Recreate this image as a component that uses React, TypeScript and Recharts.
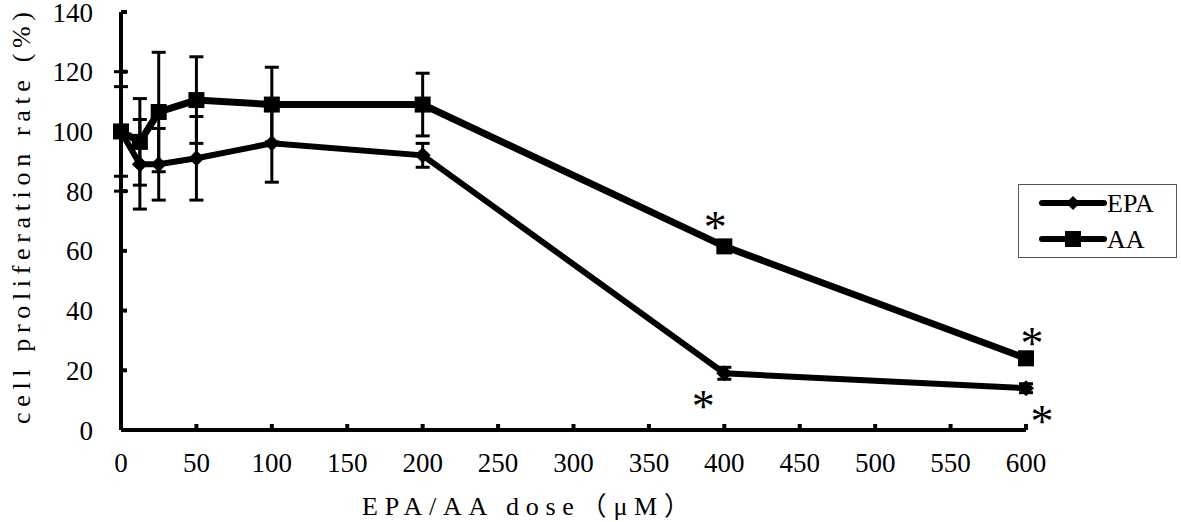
import React from "react";
import { LineChart, Line, XAxis, YAxis, ErrorBar, LabelList, Legend } from "recharts";

// doses in µM and mean proliferation (%) with SD
const doses = [0, 12.5, 25, 50, 100, 200, 400, 600];
const epaValues = [100, 89, 89, 91, 96, 92, 19, 14];
const epaErrors = [15, 15, 12, 14, 13, 4, 2, 1.5];
const aaValues = [100, 96.5, 106.5, 110.5, 109, 109, 61.5, 24];
const aaErrors = [20, 14.5, 20, 14.5, 12.5, 10.5, 1, 2];
const epaSig = ["", "", "", "", "", "", "*", "*"];
const aaSig = ["", "", "", "", "", "", "*", "*"];

const xTicks = [0, 50, 100, 150, 200, 250, 300, 350, 400, 450, 500, 550, 600];
const yTicks = [0, 20, 40, 60, 80, 100, 120, 140];

const FONT = "'Liberation Serif', 'Noto Sans CJK SC', serif";

const data = doses.map((d, i) => ({
  dose: d,
  epa: epaValues[i],
  epaErr: epaErrors[i],
  aa: aaValues[i],
  aaErr: aaErrors[i],
  epaSig: epaSig[i],
  aaSig: aaSig[i],
}));

const Diamond = ({ cx, cy, r }: any) => (
  <path d={`M${cx},${cy - r} L${cx + r},${cy} L${cx},${cy + r} L${cx - r},${cy} Z`} fill="#000" />
);

const Square = ({ cx, cy, r }: any) => (
  <rect x={cx - r} y={cy - r} width={r * 2} height={r * 2} fill="#000" />
);

// star placement next to each marked point (dx, dy from the point)
const starOffsets: any = {
  epa: { 6: [-21, 24], 7: [16, 24] },
  aa: { 6: [-9, -28], 7: [6, -24] },
};

const renderStar = (series: string) => (props: any) => {
  const { x, y, value, index } = props;
  if (!value) return null;
  const off = starOffsets[series][index] || [0, 0];
  return (
    <text
      key={`${series}-star-${index}`}
      x={x + off[0]}
      y={y + off[1] + 25}
      textAnchor="middle"
      fontSize={46}
      fontFamily={FONT}
      fill="#000"
    >
      {value}
    </text>
  );
};

const LegendBox = () => (
  <svg width={160} height={75}>
    <rect x={0.5} y={0.5} width={158} height={73} fill="#fff" stroke="#555" strokeWidth={1} />
    <line x1={24} y1={19} x2={86} y2={19} stroke="#000" strokeWidth={6} strokeLinecap="round" />
    <Diamond cx={55} cy={19} r={7} />
    <text x={89} y={28} fontSize={26} fontFamily={FONT} fill="#000">EPA</text>
    <line x1={24} y1={55} x2={86} y2={55} stroke="#000" strokeWidth={6} strokeLinecap="round" />
    <Square cx={55} cy={55} r={8} />
    <text x={89} y={64} fontSize={26} fontFamily={FONT} fill="#000">AA</text>
  </svg>
);

const YLabel = () => (
  <text
    x={21}
    y={218}
    transform="rotate(-90 21 218)"
    textAnchor="middle"
    dominantBaseline="central"
    fontSize={26}
    fontFamily={FONT}
    fill="#000"
    textLength={412}
    lengthAdjust="spacing"
  >
    cell proliferation rate (%)
  </text>
);

const XLabel = () => (
  <text
    x={526}
    y={506}
    textAnchor="middle"
    dominantBaseline="central"
    fontSize={26}
    fontFamily={FONT}
    fill="#000"
    textLength={328}
    lengthAdjust="spacing"
  >
    EPA/AA dose（μM）
  </text>
);

export default function App() {
  return (
    <div style={{ position: "absolute", left: 0, top: 0, background: "#fff" }}>
      <LineChart
        width={1181}
        height={522}
        data={data}
        margin={{ top: 12, right: 155, bottom: 0, left: 0 }}
        style={{ fontFamily: FONT }}
      >
        <XAxis
          dataKey="dose"
          type="number"
          domain={[0, 600]}
          ticks={xTicks}
          interval={0}
          height={92}
          axisLine={{ stroke: "#000", strokeWidth: 4 }}
          tickLine={{ stroke: "#000", strokeWidth: 4 }}
          tickSize={-6}
          tickMargin={29}
          tick={{ fill: "#000", fontSize: 27, fontFamily: FONT }}
          label={<XLabel />}
        />
        <YAxis
          type="number"
          domain={[0, 140]}
          ticks={yTicks}
          interval={0}
          width={121}
          axisLine={{ stroke: "#000", strokeWidth: 4 }}
          tickLine={{ stroke: "#000", strokeWidth: 4 }}
          tickSize={-6}
          tickMargin={34}
          tick={{ fill: "#000", fontSize: 27, fontFamily: FONT }}
          label={<YLabel />}
        />
        <Legend
          layout="vertical"
          align="center"
          verticalAlign="middle"
          content={<LegendBox />}
          wrapperStyle={{ left: 1018, top: 184, width: 160, height: 75 }}
        />
        <Line
          dataKey="epa"
          stroke="#000"
          strokeWidth={6}
          isAnimationActive={false}
          dot={(p: any) => <Diamond key={`epa-dot-${p.index}`} cx={p.cx} cy={p.cy} r={8} />}
          activeDot={false}
        >
          <ErrorBar dataKey="epaErr" direction="y" width={7} strokeWidth={3} stroke="#000" />
          <LabelList dataKey="epaSig" content={renderStar("epa")} />
        </Line>
        <Line
          dataKey="aa"
          stroke="#000"
          strokeWidth={7}
          isAnimationActive={false}
          dot={(p: any) => <Square key={`aa-dot-${p.index}`} cx={p.cx} cy={p.cy} r={8} />}
          activeDot={false}
        >
          <ErrorBar dataKey="aaErr" direction="y" width={7} strokeWidth={3} stroke="#000" />
          <LabelList dataKey="aaSig" content={renderStar("aa")} />
        </Line>
      </LineChart>
    </div>
  );
}
